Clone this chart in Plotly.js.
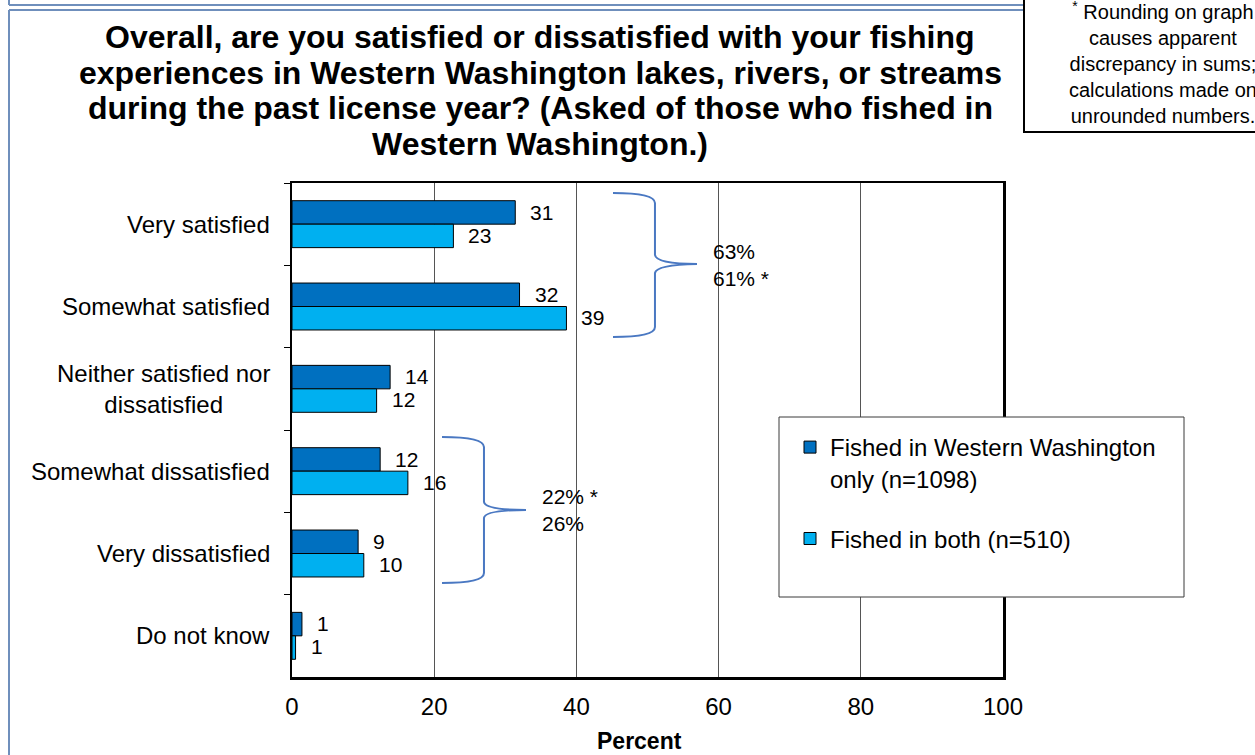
<!DOCTYPE html>
<html>
<head>
<meta charset="utf-8">
<script src="https://cdn.plot.ly/plotly-3.0.1.min.js"></script>
<style>html,body{margin:0;padding:0;background:#fff;}#chart{width:1255px;height:755px;}</style>
</head>
<body>
<div id="chart"></div>
<script>
// ---- data ----
const categories = ['Very satisfied', 'Somewhat satisfied', 'Neither satisfied nor<br>dissatisfied', 'Somewhat dissatisfied', 'Very dissatisfied', 'Do not know'];
const westernOnly = [31.4, 32.0, 13.8, 12.4, 9.3, 1.4];
const both = [22.7, 38.6, 11.9, 16.3, 10.1, 0.5];
const westernLabels = ['31', '32', '14', '12', '9', '1'];
const bothLabels = ['23', '39', '12', '16', '10', '1'];
const seriesNames = ['Fished in Western Washington<br>only (n=1098)', 'Fished in both (n=510)'];
const xTickVals = [0, 20, 40, 60, 80, 100];
const bracketLabels = ['63%<br>61% *', '22% *<br>26%'];
const titleLines = [
  'Overall, are you satisfied or dissatisfied with your fishing',
  'experiences in Western Washington lakes, rivers, or streams',
  'during the past license year? (Asked of those who fished in',
  'Western Washington.)'
];
const noteText = '<sup>*</sup> Rounding on graph<br>causes apparent<br>discrepancy in sums;<br>calculations made on<br>unrounded numbers.';

// ---- layout helpers (pixel -> paper) ----
const W = 1255, H = 755, L = 292, R = 1003, T = 183, B = 677;
const px = x => (x - L) / (R - L);
const py = y => (B - y) / (B - T);
const pt = (x, y) => px(x).toFixed(4) + ',' + py(y).toFixed(4);

const FONT = 'Liberation Sans, Arial, sans-serif';
const DARK = '#0070C0', LIGHT = '#00B0F0', FRAME = '#6F8FBC', BRACE = '#4A78C2';

const traces = [
  {type: 'bar', orientation: 'h', y: categories, x: westernOnly, name: seriesNames[0],
   legendgroup: 'a', marker: {color: DARK, line: {color: '#000', width: 1}}, hoverinfo: 'skip'},
  {type: 'bar', orientation: 'h', y: categories, x: both, name: seriesNames[1],
   legendgroup: 'b', marker: {color: LIGHT, line: {color: '#000', width: 1}}, hoverinfo: 'skip'}
];

const annotations = [];
titleLines.forEach((t, i) => {
  annotations.push({xref: 'paper', yref: 'paper', x: px(540), y: py(37 + i * 35.7), xanchor: 'center', yanchor: 'middle',
    text: '<b>' + t + '</b>', showarrow: false, font: {family: FONT, size: 32, color: '#000'}});
});
categories.forEach((c, i) => {
  annotations.push({xref: 'paper', yref: 'y', x: px(272), y: c, xanchor: 'right', yanchor: 'middle',
    text: c, showarrow: false, align: 'center', font: {family: FONT, size: 24, color: '#000'}});
  annotations.push({xref: 'x', yref: 'y', x: westernOnly[i], y: c, xanchor: 'left', yanchor: 'middle',
    xshift: 13, yshift: 12, text: westernLabels[i], showarrow: false, font: {family: FONT, size: 21, color: '#000'}});
  annotations.push({xref: 'x', yref: 'y', x: both[i], y: c, xanchor: 'left', yanchor: 'middle',
    xshift: 13, yshift: -11, text: bothLabels[i], showarrow: false, font: {family: FONT, size: 21, color: '#000'}});
});
annotations.push({xref: 'paper', yref: 'paper', x: px(711), y: py(265), xanchor: 'left', yanchor: 'middle',
  text: bracketLabels[0], showarrow: false, align: 'left', font: {family: FONT, size: 21, color: '#000'}});
annotations.push({xref: 'paper', yref: 'paper', x: px(540), y: py(510), xanchor: 'left', yanchor: 'middle',
  text: bracketLabels[1], showarrow: false, align: 'left', font: {family: FONT, size: 21, color: '#000'}});
annotations.push({xref: 'paper', yref: 'paper', x: px(639), y: py(741), xanchor: 'center', yanchor: 'middle',
  text: '<b>Percent</b>', showarrow: false, font: {family: FONT, size: 23, color: '#000'}});
annotations.push({xref: 'paper', yref: 'paper', x: px(1163), y: py(62), xanchor: 'center', yanchor: 'middle',
  text: noteText, showarrow: false, align: 'center', font: {family: FONT, size: 20, color: '#000'}});

const shapes = [
  // slide frame lines
  {type: 'line', xref: 'paper', yref: 'paper', x0: px(9), x1: px(9), y0: py(10), y1: py(760), line: {color: FRAME, width: 2}},
  {type: 'line', xref: 'paper', yref: 'paper', x0: px(9), x1: px(1024), y0: py(10), y1: py(10), line: {color: FRAME, width: 2}},
  {type: 'line', xref: 'paper', yref: 'paper', x0: px(9), x1: px(1024), y0: py(5), y1: py(5), line: {color: FRAME, width: 2}},
  {type: 'line', xref: 'paper', yref: 'paper', x0: px(9), x1: px(9), y0: py(-5), y1: py(5), line: {color: FRAME, width: 2}},
  // note box
  {type: 'rect', xref: 'paper', yref: 'paper', x0: px(1024), x1: px(1270), y0: py(-10), y1: py(132),
   line: {color: '#000', width: 2}, fillcolor: '#fff', layer: 'above'},
  // legend box
  {type: 'rect', xref: 'paper', yref: 'paper', x0: px(779), x1: px(1184), y0: py(417), y1: py(597),
   line: {color: '#3a3a3a', width: 1}, fillcolor: '#fff', layer: 'above'},
  // braces
  {type: 'path', xref: 'paper', yref: 'paper', line: {color: BRACE, width: 2}, layer: 'above',
   path: 'M' + pt(613, 193) + ' Q' + pt(655, 193) + ' ' + pt(655, 203) + ' L' + pt(655, 255) +
         ' Q' + pt(656, 264) + ' ' + pt(697, 264) + ' Q' + pt(656, 265) + ' ' + pt(655, 273) +
         ' L' + pt(655, 327) + ' Q' + pt(655, 337) + ' ' + pt(613, 337)},
  {type: 'path', xref: 'paper', yref: 'paper', line: {color: BRACE, width: 2}, layer: 'above',
   path: 'M' + pt(442, 437) + ' Q' + pt(484, 437) + ' ' + pt(484, 447) + ' L' + pt(484, 502) +
         ' Q' + pt(485, 510) + ' ' + pt(526, 510) + ' Q' + pt(485, 510) + ' ' + pt(484, 518) +
         ' L' + pt(484, 573) + ' Q' + pt(484, 583) + ' ' + pt(442, 583)}
];

const layout = {
  width: W, height: H,
  margin: {l: L, r: W - R, t: T, b: H - B, pad: 0},
  paper_bgcolor: '#fff', plot_bgcolor: '#fff',
  font: {family: FONT, size: 20, color: '#000'},
  barmode: 'group', bargap: 0.43, bargroupgap: 0,
  xaxis: {range: [0, 100], tickvals: xTickVals, showgrid: true, gridcolor: '#555', gridwidth: 1,
          zeroline: false, showline: true, mirror: true, linecolor: '#000', linewidth: 2.5,
          ticks: '', ticklabelstandoff: 7, tickfont: {family: FONT, size: 24, color: '#000'}, fixedrange: true},
  yaxis: {type: 'category', autorange: 'reversed', showticklabels: false, tickson: 'boundaries',
          ticks: 'outside', ticklen: 6, tickcolor: '#000', tickwidth: 1, showgrid: false,
          showline: true, mirror: true, linecolor: '#000', linewidth: 2.5, zeroline: false, fixedrange: true},
  showlegend: true,
  legend: {x: px(790), y: py(425), xanchor: 'left', yanchor: 'top', bgcolor: 'rgba(0,0,0,0)', borderwidth: 0,
           traceorder: 'grouped', tracegroupgap: 26, valign: 'top',
           font: {family: FONT, size: 24, color: '#000'}},
  annotations: annotations,
  shapes: shapes
};

Plotly.newPlot('chart', traces, layout, {displayModeBar: false, staticPlot: true});
</script>
</body>
</html>
